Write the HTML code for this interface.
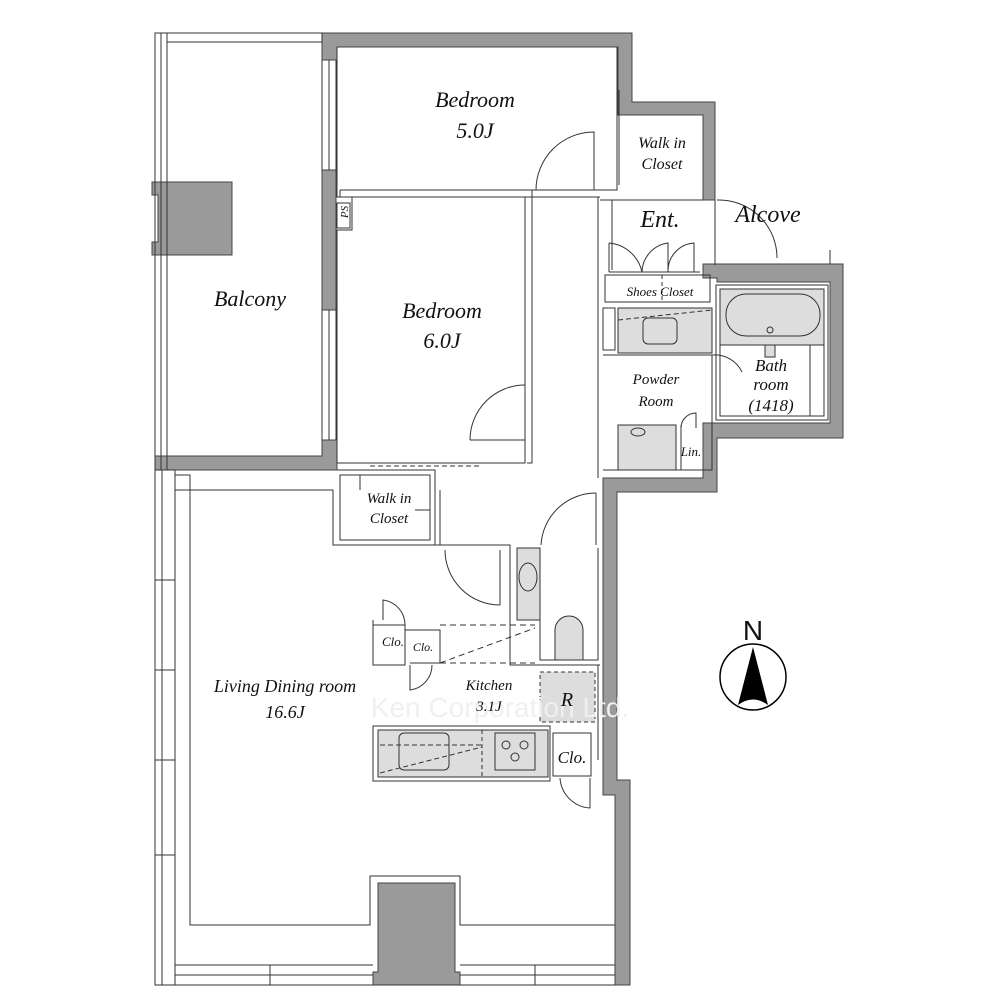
<!DOCTYPE html>
<html><head><meta charset="utf-8"><style>
html,body{margin:0;padding:0;background:#fff}
svg{display:block}
text{font-family:"Liberation Serif",serif;font-style:italic;fill:#111}
</style></head><body>
<svg width="1000" height="1000" viewBox="0 0 1000 1000" xmlns="http://www.w3.org/2000/svg">
<g fill="#9a9a9a" stroke="#444" stroke-width="1">
<path d="M322 33 H632 V102 H715 V200 H703 V115 H618 V47 H337 V60 H322 Z"/>
<path d="M703 264 H843 V438 H717 V492 H617 V780 H630 V985 H615 V795 H603 V478 H703 V423 H830 V282 H717 V278 H703 Z"/>
<rect x="322" y="170" width="14" height="140"/>
<path d="M322 440 H337 V470 H155 V456 H322 Z"/>
<path d="M152 182 H232 V255 H152 V242 H158 V195 H152 Z"/>
<path d="M378 883 H455 V972 H460 V985 H373 V972 H378 Z"/>
</g>
<g fill="none" stroke="#333" stroke-width="1">
<rect x="155" y="33" width="12" height="437"/>
<line x1="161" y1="33" x2="161" y2="470"/>
<rect x="167" y="33" width="155" height="9"/>
<line x1="322" y1="60" x2="322" y2="170"/><line x1="336" y1="60" x2="336" y2="170"/>
<line x1="329" y1="60" x2="329" y2="170"/>
<line x1="322" y1="310" x2="322" y2="440"/><line x1="336" y1="310" x2="336" y2="440"/>
<line x1="329" y1="310" x2="329" y2="440"/>
<rect x="155" y="470" width="20" height="515"/>
<line x1="162" y1="470" x2="162" y2="985"/>
<line x1="155" y1="580" x2="175" y2="580"/><line x1="155" y1="670" x2="175" y2="670"/>
<line x1="155" y1="760" x2="175" y2="760"/><line x1="155" y1="855" x2="175" y2="855"/>
<line x1="155" y1="985" x2="615" y2="985"/>
<line x1="175" y1="965" x2="373" y2="965"/><line x1="460" y1="965" x2="615" y2="965"/>
<line x1="175" y1="975" x2="373" y2="975"/><line x1="460" y1="975" x2="615" y2="975"/>
<line x1="270" y1="965" x2="270" y2="985"/><line x1="535" y1="965" x2="535" y2="985"/>
<path d="M175 490 H333 V545 H440 V490"/>
<path d="M175 490 V475 H190 V925 H370 V876 H460 V925 H615"/>
<line x1="190" y1="490" x2="333" y2="490"/>
<path d="M337 47 V197 H600 M617 47 V190 H340"/>
<path d="M340 190 V197"/>
<line x1="619" y1="90" x2="619" y2="185"/>
<path d="M352 197 V230 H337 V463 H525 V197"/>
<path d="M532 190 V463 H527"/>
<rect x="337" y="203" width="13" height="25"/>
<line x1="370" y1="466" x2="480" y2="466" stroke-dasharray="5,3"/>
<path d="M337 470 H435 V545 M340 475 H430 V540 H340 Z"/>
<line x1="360" y1="475" x2="360" y2="490"/><line x1="415" y1="510" x2="430" y2="510"/>
<path d="M536 190 A58 58 0 0 1 594 132 V190"/>
<path d="M470 440 A55 55 0 0 1 525 385"/><line x1="470" y1="440" x2="525" y2="440"/>
<path d="M445 550 A55 55 0 0 0 500 605"/><line x1="500" y1="550" x2="500" y2="605"/>
<path d="M541 545 A55 55 0 0 1 596 493"/><line x1="596" y1="493" x2="596" y2="545"/>
<path d="M440 545 H510 V665 H600"/>
<path d="M598 197 V478"/><path d="M612 200 V270"/>
<path d="M600 200 H703 M715 200 V265"/>
<rect x="605" y="275" width="105" height="27"/>
<line x1="662" y1="275" x2="662" y2="302" stroke-dasharray="4,3"/>
<path d="M609 272 H700 M609 243 V272 M609 243 A37 37 0 0 1 642 272 A30 30 0 0 1 668 243 V272 A28 28 0 0 1 694 243 V272"/>
<path d="M717 200 A58 58 0 0 1 777 258"/>
<line x1="830" y1="250" x2="830" y2="264"/>
<rect x="603" y="308" width="12" height="42"/>
<path d="M603 355 H712 V470 H603"/>
<rect x="618" y="308" width="94" height="45" fill="#ddd"/>
<path d="M618 320 L712 310" stroke-dasharray="5,3"/>
<rect x="643" y="318" width="34" height="26" rx="5"/>
<rect x="618" y="425" width="58" height="45" fill="#ddd"/>
<ellipse cx="638" cy="432" rx="7" ry="4"/>
<path d="M681 425 V470 M681 428 A15 15 0 0 1 696 413 V428"/>
<path d="M712 355 A30 30 0 0 1 742 372"/>
<rect x="716" y="285" width="112" height="135"/>
<rect x="720" y="289" width="104" height="127"/>
<path d="M720 289 H824 V345 H720 Z" fill="#ddd"/>
<rect x="726" y="294" width="94" height="42" rx="20"/>
<circle cx="770" cy="330" r="3"/>
<rect x="765" y="345" width="10" height="12" fill="#ddd"/>
<line x1="810" y1="345" x2="810" y2="416"/>
<rect x="517" y="548" width="23" height="72" fill="#ddd"/>
<ellipse cx="528" cy="577" rx="9" ry="14"/>
<path d="M540 548 V660 H598 V548"/>
<path d="M555 660 V630 A13 13 0 0 1 583 630 V660 Z" fill="#ddd"/>
<path d="M373 620 V665 H405 V625 H373"/>
<path d="M405 625 V665 M405 630 H440 V663 H410"/>
<path d="M383 620 V600 A25 25 0 0 1 405 625"/>
<path d="M410 665 V690 A25 25 0 0 0 432 665"/>
<path d="M440 625 H535 M440 663 L535 628" stroke-dasharray="6,4"/>
<line x1="440" y1="663" x2="535" y2="663" stroke-dasharray="6,4"/>
<line x1="598" y1="665" x2="598" y2="760"/>
<rect x="540" y="672" width="55" height="50" fill="#ddd" stroke-dasharray="4,3"/>
<rect x="373" y="726" width="177" height="55"/>
<rect x="378" y="730" width="170" height="47" fill="#ddd"/>
<line x1="482" y1="730" x2="482" y2="777" stroke-dasharray="4,3"/>
<path d="M380 745 H482 M380 773 L482 747" stroke-dasharray="5,3"/>
<rect x="399" y="733" width="50" height="37" rx="5"/>
<rect x="495" y="733" width="40" height="37"/>
<circle cx="506" cy="745" r="4"/><circle cx="524" cy="745" r="4"/><circle cx="515" cy="757" r="4"/>
<rect x="553" y="733" width="38" height="43"/>
<path d="M560 778 A32 32 0 0 0 590 808 V778"/>
</g>
<text x="500" y="717" font-size="28" text-anchor="middle" style="fill:#f0f0f0;font-style:normal;font-family:'Liberation Sans',sans-serif">Ken Corporation Ltd.</text>
<g text-anchor="middle">
<text x="475" y="107" font-size="22">Bedroom</text>
<text x="475" y="138" font-size="22">5.0J</text>
<text x="662" y="148" font-size="16">Walk in</text>
<text x="662" y="169" font-size="16">Closet</text>
<text x="660" y="227" font-size="24">Ent.</text>
<text x="768" y="222" font-size="24">Alcove</text>
<text x="660" y="296" font-size="13">Shoes Closet</text>
<text x="442" y="318" font-size="22">Bedroom</text>
<text x="442" y="348" font-size="22">6.0J</text>
<text x="250" y="306" font-size="22">Balcony</text>
<text x="0" y="0" font-size="11" transform="translate(348 212) rotate(-90)">PS</text>
<text x="656" y="384" font-size="15">Powder</text>
<text x="656" y="406" font-size="15">Room</text>
<text x="771" y="371" font-size="17">Bath</text>
<text x="771" y="390" font-size="17">room</text>
<text x="771" y="411" font-size="17">(1418)</text>
<text x="691" y="456" font-size="13">Lin.</text>
<text x="389" y="503" font-size="15">Walk in</text>
<text x="389" y="523" font-size="15">Closet</text>
<text x="393" y="646" font-size="13">Clo.</text>
<text x="423" y="651" font-size="12">Clo.</text>
<text x="285" y="692" font-size="18">Living Dining room</text>
<text x="285" y="718" font-size="18">16.6J</text>
<text x="489" y="690" font-size="15">Kitchen</text>
<text x="489" y="711" font-size="15">3.1J</text>
<text x="567" y="706" font-size="20">R</text>
<text x="572" y="763" font-size="17">Clo.</text>
</g>
<text x="753" y="640" font-size="28" text-anchor="middle" style="font-style:normal;font-family:'Liberation Sans',sans-serif">N</text>
<circle cx="753" cy="677" r="33" fill="none" stroke="#000" stroke-width="1.5"/>
<path d="M753 647 L738 705 Q753 694 768 705 Z" fill="#000"/>
</svg>
</body></html>
